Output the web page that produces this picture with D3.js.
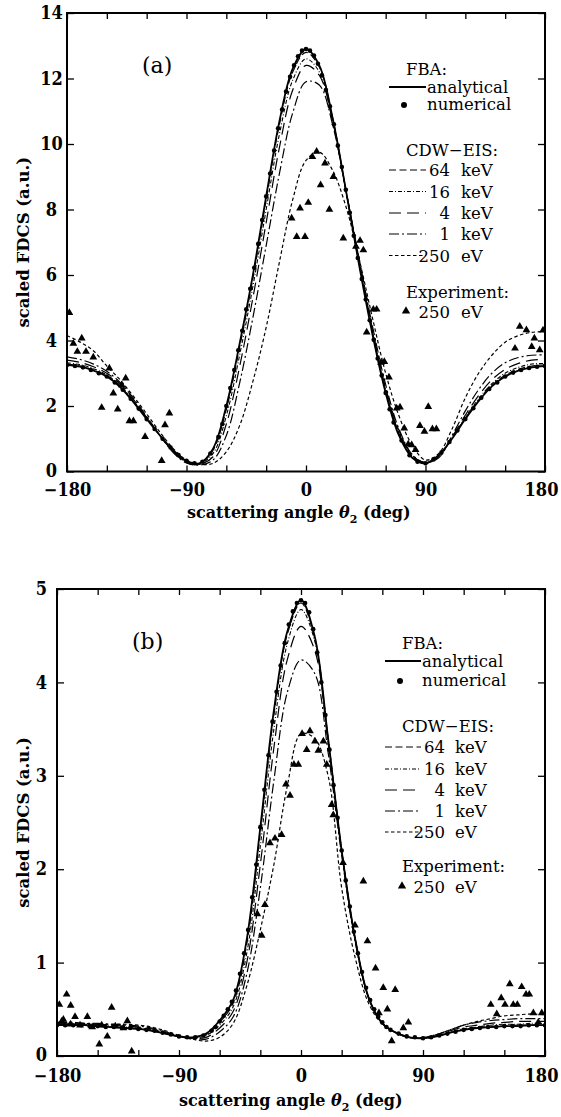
<!DOCTYPE html>
<html>
<head>
<meta charset="utf-8">
<script src="https://cdn.jsdelivr.net/npm/d3@7"></script>
<style>
  body { margin: 0; background: #fff; }
  svg text { font-family: "DejaVu Serif", serif; fill: #000; }
</style>
</head>
<body>
<div id="chart"></div>
<script>
// ---- data ----
var angles = [-180,-170,-160,-150,-140,-130,-120,-110,-100,-90,-80,-70,-60,-50,-40,-30,-20,-10,0,
              10,20,30,40,50,60,70,80,90,100,110,120,130,140,150,160,170,180];

var xTicks = [-180,-150,-120,-90,-60,-30,0,30,60,90,120,150,180];
var xLabels = [-180,-90,0,90,180];
var yTicksA = [0,2,4,6,8,10,12,14];
var yTicksB = [0,1,2,3,4,5];

var seriesNames = ["analytical","64","16","4","1","250"];

// panel (a)
var fbaA    = [3.25,3.2,3.08,2.9,2.58,2.12,1.6,1.1,0.65, 0.32,0.26,0.7,2.0,3.9,6.0,8.4,10.7,12.3, 12.9,
               12.4,10.8,8.6,6.3,4.2,2.4,1.1,0.42,0.25, 0.5,1.0,1.6,2.15,2.6,2.9,3.08,3.18,3.22];
var cdw64A  = [3.28,3.22,3.1,2.92,2.6,2.14,1.62,1.1,0.64, 0.3,0.25,0.65,1.9,3.8,5.9,8.3,10.6,12.2, 12.8,
               12.35,10.8,8.6,6.35,4.25,2.45,1.15,0.45,0.26, 0.5,1.02,1.63,2.18,2.63,2.94,3.12,3.22,3.26];
var cdw16A  = [3.32,3.26,3.14,2.95,2.63,2.16,1.63,1.1,0.62, 0.29,0.24,0.55,1.7,3.55,5.65,8.0,10.3,11.95, 12.6,
               12.2,10.75,8.6,6.4,4.3,2.5,1.2,0.48,0.27, 0.48,1.02,1.65,2.22,2.68,3.0,3.18,3.28,3.3];
var cdw4A   = [3.4,3.33,3.2,3.0,2.68,2.2,1.65,1.1,0.6, 0.27,0.22,0.45,1.45,3.2,5.3,7.6,9.9,11.65, 12.4,
               12.1,10.7,8.6,6.45,4.35,2.55,1.25,0.5,0.27, 0.45,1.05,1.72,2.32,2.8,3.12,3.3,3.4,3.42];
var cdw1A   = [3.5,3.42,3.28,3.06,2.72,2.24,1.68,1.1,0.58, 0.26,0.2,0.35,1.1,2.7,4.7,6.9,9.1,10.95, 11.9,
               11.8,10.6,8.6,6.5,4.45,2.65,1.3,0.52,0.27, 0.42,1.1,1.85,2.5,3.0,3.32,3.48,3.55,3.56];
var cdw250A = [4.15,3.95,3.68,3.22,2.8,2.3,1.76,1.2,0.7, 0.35,0.22,0.25,0.6,1.4,2.75,4.4,6.4,8.3, 9.5,
               9.75,9.2,8.1,6.5,4.7,3.0,1.7,0.8,0.35, 0.55,1.3,2.25,3.0,3.55,3.95,4.15,4.25,4.27];

// panel (b)
var fbaB    = [0.33,0.33,0.33,0.32,0.31,0.3,0.29,0.27,0.24, 0.21,0.2,0.24,0.38,0.6,1.25,2.45,3.7,4.55, 4.88,
               4.5,3.4,2.2,1.25,0.62,0.35,0.25,0.2,0.19, 0.21,0.25,0.28,0.3,0.31,0.32,0.32,0.33,0.33];
var cdw64B  = [0.34,0.33,0.33,0.32,0.31,0.3,0.29,0.27,0.24, 0.21,0.2,0.23,0.36,0.57,1.2,2.4,3.65,4.52, 4.85,
               4.48,3.4,2.2,1.25,0.62,0.35,0.25,0.2,0.19, 0.21,0.25,0.28,0.3,0.31,0.32,0.33,0.33,0.33];
var cdw16B  = [0.34,0.34,0.33,0.33,0.32,0.31,0.3,0.28,0.24, 0.21,0.19,0.22,0.33,0.53,1.1,2.25,3.5,4.42, 4.78,
               4.45,3.4,2.2,1.25,0.62,0.35,0.25,0.2,0.19, 0.21,0.26,0.29,0.31,0.33,0.34,0.34,0.35,0.35];
var cdw4B   = [0.35,0.35,0.34,0.34,0.33,0.32,0.31,0.29,0.25, 0.21,0.19,0.2,0.3,0.48,1.0,2.05,3.3,4.25, 4.6,
               4.35,3.35,2.2,1.25,0.62,0.35,0.25,0.2,0.19, 0.22,0.27,0.31,0.33,0.35,0.36,0.37,0.37,0.37];
var cdw1B   = [0.36,0.36,0.35,0.35,0.34,0.33,0.32,0.3,0.26, 0.21,0.18,0.18,0.26,0.42,0.88,1.8,2.95,3.9, 4.24,
               4.1,3.25,2.15,1.22,0.62,0.35,0.25,0.2,0.2, 0.23,0.28,0.33,0.36,0.38,0.39,0.4,0.4,0.4];
var cdw250B = [0.36,0.36,0.35,0.34,0.34,0.34,0.33,0.31,0.27, 0.22,0.18,0.16,0.2,0.35,0.75,1.35,2.05,2.9, 3.45,
               3.4,3.0,1.8,1.05,0.56,0.34,0.25,0.2,0.19, 0.23,0.28,0.33,0.37,0.4,0.43,0.44,0.45,0.44];

// FBA numerical points (own angle grid)
var numAngles = [-180,-174,-168,-162,-156,-150,-144,-138,-132,-126,-120,-114,-108,-102,-96,-90,-84,-78,-72,
  -66,-63,-60,-57,-54,-51,-48,-45,-42,-39,-36,-33,-30,-27,-24,-21,-18,-15,-12,-9,-6,-3,0,
  3,6,9,12,15,18,21,24,27,30,33,36,39,42,45,48,51,54,57,60,63,66,
  72,78,84,90,96,102,108,114,120,126,132,138,144,150,156,162,168,174,180];
var numA = [3.25,3.22,3.18,3.1,3.0,2.9,2.72,2.5,2.22,1.92,1.6,1.3,1.0,0.73,0.5,0.33,0.25,0.3,0.55,
  1.05,1.45,2.0,2.55,3.1,3.7,4.3,4.95,5.58,6.22,6.95,7.68,8.4,9.1,9.8,10.48,11.05,11.6,12.05,12.4,12.68,12.85,12.9,
  12.85,12.7,12.45,12.1,11.65,11.15,10.6,9.95,9.3,8.6,7.9,7.2,6.52,5.88,5.25,4.62,4.02,3.45,2.93,2.4,1.9,1.5,
  0.95,0.5,0.3,0.25,0.37,0.58,0.9,1.25,1.6,1.93,2.25,2.52,2.72,2.9,3.02,3.1,3.16,3.2,3.22];
var numB = [0.33,0.33,0.33,0.33,0.32,0.32,0.31,0.31,0.3,0.3,0.29,0.28,0.27,0.25,0.23,0.21,0.2,0.2,0.22,
  0.27,0.31,0.37,0.43,0.5,0.58,0.7,0.88,1.1,1.35,1.7,2.05,2.45,2.85,3.22,3.58,3.9,4.18,4.42,4.62,4.76,4.85,4.88,
  4.85,4.75,4.57,4.32,4.0,3.65,3.28,2.9,2.55,2.2,1.88,1.6,1.33,1.1,0.9,0.73,0.6,0.5,0.42,0.36,0.31,0.28,
  0.24,0.21,0.2,0.19,0.2,0.22,0.24,0.26,0.28,0.29,0.3,0.31,0.31,0.32,0.32,0.32,0.33,0.33,0.33];

// experiment, 250 eV
var expAngA = [-178.2,-175.2,-172.2,-168.9,-165.7,-160.2,-153.9,-148.1,-145.1,-141.8,-138.8,-135.8,-133,-130,-121.2,-108.7,-106.2,-102.9,
  -10.8,-7,-4.5,-0.75,1.7,4.8,8,11,14.3,17.6,20.6,28.1,37.6,40.7,43.2,45.7,50.7,53.2,56.5,59,62.5,68.3,70.8,74,77,79.6,82.5,85.8,89.2,92.1,95.2,98.2,
  157.4,161,166,170,172,176,178.5];
var expValA = [4.85,3.91,3.66,4.07,3.66,3.49,1.95,3.15,2.39,1.9,2.64,2.85,1.54,1.54,1.06,0.33,1.42,1.78,
  7.73,7.17,8.04,7.17,8.21,9.61,9.77,8.75,9.41,8.0,9.0,7.12,6.87,7.05,6.76,4.25,4.95,4.95,3.33,3.35,2.88,1.93,1.96,1.32,0.83,0.81,0.66,1.4,1.22,1.98,1.3,1.3,
  3.76,4.43,4.32,3.81,4.07,3.71,4.31];
var expAngB = [-178.3,-176.6,-175.3,-172.9,-170,-169.9,-166.7,-163,-157.6,-154,-148.8,-147,-142.9,-139.7,-137,-131,-128.1,-124.9,
  -32.2,-29,-26.6,-22.9,-19.2,-14.3,-11.1,-8.1,-5.2,-2,0.8,4.2,6.6,10.3,12.8,16.5,19,22.6,23.8,31,39.8,46,49,55,57.5,60.7,63.7,66.9,69.5,75.5,79.2,
  140,144.4,147.7,150.5,154,156.6,159.6,162.8,166,168.4,171.4,175,177.6];
var expValB = [0.55,0.37,0.39,0.66,0.34,0.54,0.42,0.33,0.42,0.31,0.125,0.33,0.21,0.52,0.32,0.3,0.375,0.05,
  1.52,1.29,1.62,2.28,2.33,2.37,2.91,2.79,3.12,3.12,3.45,3.28,3.48,3.37,3.27,3.37,3.12,2.69,2.58,2.07,1.4,1.87,1.23,0.94,0.46,0.73,0.5,0.16,0.71,0.3,0.36,
  0.55,0.45,0.62,0.55,0.77,0.55,0.55,0.74,0.66,0.66,0.46,0.36,0.46];

// ---- line styles ----
var styles = {
  "analytical": { dash: null,        width: 1.8 },
  "64":         { dash: "7,3.5",     width: 1.2 },
  "16":         { dash: "4,2,1,2",   width: 1.1 },
  "4":          { dash: "12,6",      width: 1.2 },
  "1":          { dash: "10,3,2,3",  width: 1.2 },
  "250":        { dash: "3.5,2.5",   width: 1.2 }
};

var tickFont = "'DejaVu Serif Condensed', 'DejaVu Serif', serif";

var svg = d3.select("#chart").append("svg")
  .attr("width", 561).attr("height", 1117);

function drawPanel(p) {
  var x = d3.scaleLinear().domain([-180, 180]).range([p.left, p.right]);
  var y = d3.scaleLinear().domain([0, p.ymax]).range([p.bottom, p.top]);
  var g = svg.append("g");

  g.append("clipPath").attr("id", "clip" + p.name)
    .append("rect")
      .attr("x", p.left).attr("y", p.top)
      .attr("width", p.right - p.left).attr("height", p.bottom - p.top);
  var plot = g.append("g").attr("clip-path", "url(#clip" + p.name + ")");

  var line = d3.line()
    .x(function(d) { return x(d[0]); })
    .y(function(d) { return y(d[1]); })
    .curve(d3.curveCatmullRom.alpha(0.5));

  // theory curves, 250 eV drawn first, FBA on top
  seriesNames.slice().reverse().forEach(function(name) {
    var vals = p.curves[name];
    var st = styles[name];
    plot.append("path")
      .datum(angles.map(function(a, i) { return [a, vals[i]]; }))
      .attr("d", line)
      .attr("fill", "none")
      .attr("stroke", "#000")
      .attr("stroke-width", st.width)
      .attr("stroke-dasharray", st.dash);
  });

  // FBA numerical dots
  plot.append("g").selectAll("circle")
    .data(numAngles.map(function(a, i) { return [a, p.num[i]]; }))
    .enter().append("circle")
      .attr("cx", function(d) { return x(d[0]); })
      .attr("cy", function(d) { return y(d[1]); })
      .attr("r", 2.3)
      .attr("fill", "#000");

  // experiment triangles
  var tri = d3.symbol().type(d3.symbolTriangle).size(26);
  plot.append("g").selectAll("path")
    .data(p.expAng.map(function(a, i) { return [a, p.expVal[i]]; }))
    .enter().append("path")
      .attr("d", tri)
      .attr("transform", function(d) { return "translate(" + x(d[0]) + "," + y(d[1]) + ")"; })
      .attr("fill", "#000");

  // axes (ticks pointing inward)
  var fmt = d3.format("d");
  var bottom = g.append("g")
    .attr("transform", "translate(0," + p.bottom + ")")
    .call(d3.axisBottom(x).tickValues(xTicks).tickSizeInner(-6).tickSizeOuter(0).tickPadding(p.xPad)
      .tickFormat(function(d) { return xLabels.indexOf(d) >= 0 ? fmt(d) : ""; }));
  // the last label sits a little inside the frame, as in the figure
  bottom.selectAll(".tick text").attr("dx", function(d) { return d === 180 ? -4 : 0; });
  var left = g.append("g")
    .attr("transform", "translate(" + p.left + ",0)")
    .call(d3.axisLeft(y).tickValues(p.yTicks).tickSizeInner(-7).tickSizeOuter(0).tickPadding(15.5)
      .tickFormat(fmt));
  left.selectAll("text").attr("text-anchor", "middle")
    .attr("dy", function(d) { return d === 0 ? "0.25em" : "0.32em"; });
  g.append("g")
    .attr("transform", "translate(0," + p.top + ")")
    .call(d3.axisTop(x).tickValues(xTicks).tickSizeInner(-6).tickSizeOuter(0).tickFormat(""));
  g.append("g")
    .attr("transform", "translate(" + p.right + ",0)")
    .call(d3.axisRight(y).tickValues(p.yTicks).tickSizeInner(-7).tickSizeOuter(0).tickFormat(""));

  g.selectAll(".domain").remove();
  g.selectAll(".tick line").attr("stroke", "#000").attr("stroke-width", 1.3);
  g.selectAll(".tick text")
    .style("font-family", tickFont)
    .style("font-size", "18px")
    .style("font-weight", "bold")
    .attr("fill", "#000");

  g.append("rect")
    .attr("x", p.left).attr("y", p.top)
    .attr("width", p.right - p.left).attr("height", p.bottom - p.top)
    .attr("fill", "none").attr("stroke", "#000").attr("stroke-width", 2);

  // axis titles
  g.append("text")
    .attr("transform", "translate(" + p.yTitleX + "," + ((p.top + p.bottom) / 2) + ") rotate(-90)")
    .attr("text-anchor", "middle")
    .style("font-size", "16.5px").style("font-weight", "bold")
    .text("scaled FDCS (a.u.)");

  var xt = g.append("text")
    .attr("x", p.xTitleX).attr("y", p.xTitleY)
    .style("font-size", "16px").style("font-weight", "bold");
  xt.append("tspan").text("scattering angle ");
  xt.append("tspan").style("font-style", "italic").text("θ");
  xt.append("tspan").attr("dy", 5).style("font-size", "11px").text("2");
  xt.append("tspan").attr("dy", -5).text(" (deg)");

  // panel letter
  g.append("text")
    .attr("x", p.tagX).attr("y", p.tagY)
    .style("font-size", "22px")
    .text(p.tag);

  // legend
  var L = p.legend;
  function label(txt, xx, yy, anchor) {
    g.append("text").attr("x", xx).attr("y", yy)
      .attr("text-anchor", anchor || "start")
      .style("font-size", "16.5px")
      .text(txt);
  }
  function sample(name, yy) {
    var st = styles[name];
    g.append("line")
      .attr("x1", L.lineX1).attr("x2", L.lineX2).attr("y1", yy).attr("y2", yy)
      .attr("stroke", "#000").attr("stroke-width", st.width)
      .attr("stroke-dasharray", st.dash);
  }
  label("FBA:", L.x0, L.yFBA);
  sample("analytical", L.yAnal - 6);
  label("analytical", L.textX, L.yAnal);
  g.append("circle").attr("cx", L.x0 - 2).attr("cy", L.yNum - 5).attr("r", 3).attr("fill", "#000");
  label("numerical", L.textX, L.yNum);
  label("CDW\u2212EIS:", L.x0, L.yCDW);
  var nums = ["64", "16", "4", "1", "250"];
  var units = ["keV", "keV", "keV", "keV", "eV"];
  nums.forEach(function(n, i) {
    sample(n, L.rows[i] - 6);
    label(n, L.numEnd, L.rows[i], "end");
    label(units[i], L.unitX, L.rows[i]);
  });
  label("Experiment:", L.x0, L.yExp);
  g.append("path").attr("d", d3.symbol().type(d3.symbolTriangle).size(30))
    .attr("transform", "translate(" + L.x0 + "," + (L.yExp2 - 7) + ")")
    .attr("fill", "#000");
  label("250", L.numEnd, L.yExp2, "end");
  label("eV", L.unitX, L.yExp2);
}

drawPanel({
  name: "a", tag: "(a)", tagX: 142, tagY: 73,
  left: 67, right: 545, top: 13, bottom: 471.5, ymax: 14, yTicks: yTicksA, xPad: 12,
  yTitleX: 29, xTitleX: 187, xTitleY: 518,
  curves: { "analytical": fbaA, "64": cdw64A, "16": cdw16A, "4": cdw4A, "1": cdw1A, "250": cdw250A },
  num: numA, expAng: expAngA, expVal: expValA,
  legend: { x0: 406, lineX1: 389, lineX2: 426, textX: 427, numEnd: 450, unitX: 461,
            yFBA: 75, yAnal: 93, yNum: 110, yCDW: 156, rows: [176, 197.5, 219, 240, 261.5],
            yExp: 298, yExp2: 318 }
});

drawPanel({
  name: "b", tag: "(b)", tagX: 132, tagY: 649,
  left: 57, right: 545, top: 589, bottom: 1056, ymax: 5, yTicks: yTicksB, xPad: 13,
  yTitleX: 29, xTitleX: 179, xTitleY: 1106,
  curves: { "analytical": fbaB, "64": cdw64B, "16": cdw16B, "4": cdw4B, "1": cdw1B, "250": cdw250B },
  num: numB, expAng: expAngB, expVal: expValB,
  legend: { x0: 402, lineX1: 385, lineX2: 421, textX: 422, numEnd: 445, unitX: 455,
            yFBA: 649, yAnal: 667, yNum: 686, yCDW: 732, rows: [753, 775, 796, 817, 838],
            yExp: 872, yExp2: 893 }
});
</script>
</body>
</html>
